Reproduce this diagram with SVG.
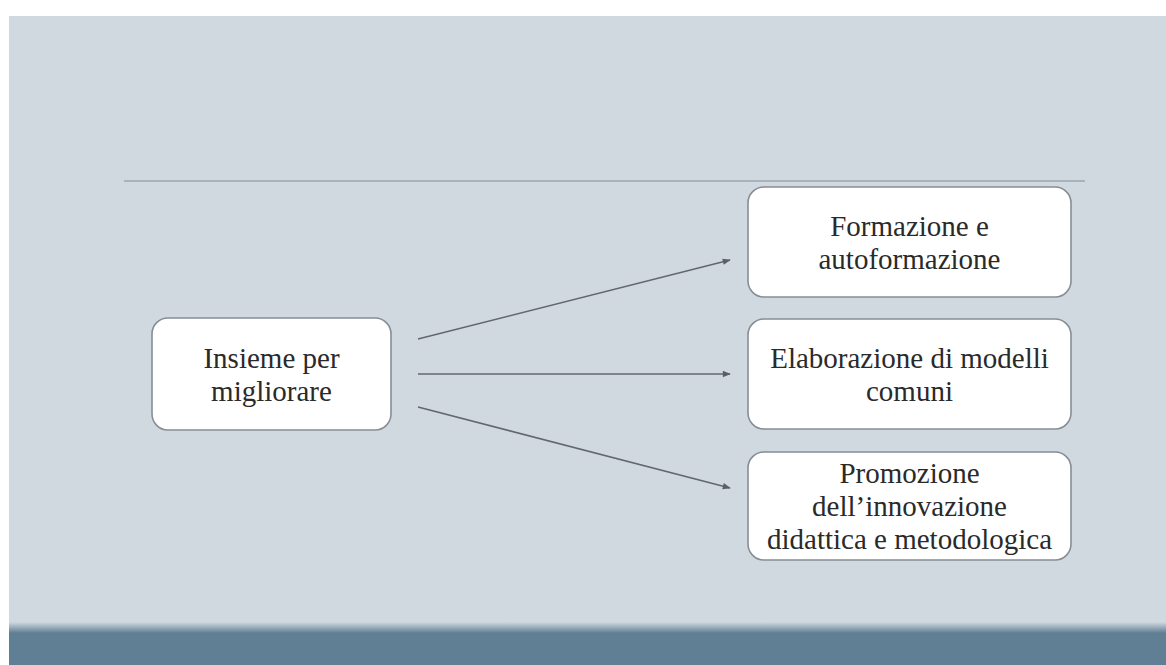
<svg xmlns="http://www.w3.org/2000/svg" width="1166" height="665" viewBox="0 0 1166 665">
  <defs>
    <linearGradient id="band" x1="0" y1="0" x2="0" y2="1">
      <stop offset="0" stop-color="#d1d9e0"/>
      <stop offset="1" stop-color="#607f94"/>
    </linearGradient>
    <marker id="arr" viewBox="0 0 10 10" refX="9" refY="5" markerWidth="9" markerHeight="8" orient="auto" markerUnits="userSpaceOnUse">
      <path d="M0,1 L10,5 L0,9 z" fill="#5a5f66"/>
    </marker>
  </defs>
  <style>
    .box { fill: #ffffff; stroke: #878d95; stroke-width: 1.6; }
    .lbl { font-family: "Liberation Serif", "Times New Roman", serif; font-size: 29px; fill: #2a2a2a; text-anchor: middle; }
    .conn { stroke: #62676e; stroke-width: 1.5; fill: none; marker-end: url(#arr); }
  </style>
  <rect x="0" y="0" width="1166" height="665" fill="#ffffff"/>
  <rect x="9" y="16" width="1157" height="649" fill="#d1d9e0"/>
  <rect x="9" y="622" width="1157" height="11" fill="url(#band)"/>
  <rect x="9" y="633" width="1157" height="32" fill="#607f94"/>
  <line x1="124" y1="181" x2="1085" y2="181" stroke="#a9b1ba" stroke-width="2"/>

  <g id="connectors">
    <line class="conn" x1="418" y1="339" x2="730" y2="260"/>
    <line class="conn" x1="418" y1="374" x2="730" y2="374"/>
    <line class="conn" x1="418" y1="407" x2="730" y2="488"/>
  </g>

  <g id="node-insieme">
    <rect class="box" x="152" y="318" width="239" height="112" rx="16"/>
    <text class="lbl" x="271.5" y="367.5">Insieme per</text>
    <text class="lbl" x="271.5" y="400.5">migliorare</text>
  </g>
  <g id="node-formazione">
    <rect class="box" x="748" y="187" width="323" height="110" rx="16"/>
    <text class="lbl" x="909.5" y="235.5">Formazione e</text>
    <text class="lbl" x="909.5" y="268.5">autoformazione</text>
  </g>
  <g id="node-elaborazione">
    <rect class="box" x="748" y="319" width="323" height="110" rx="16"/>
    <text class="lbl" x="909.5" y="367.5">Elaborazione di modelli</text>
    <text class="lbl" x="909.5" y="400.5">comuni</text>
  </g>
  <g id="node-promozione">
    <rect class="box" x="748" y="452" width="323" height="108" rx="16"/>
    <text class="lbl" x="909.5" y="483">Promozione</text>
    <text class="lbl" x="909.5" y="516">dell’innovazione</text>
    <text class="lbl" x="909.5" y="549">didattica e metodologica</text>
  </g>
</svg>
